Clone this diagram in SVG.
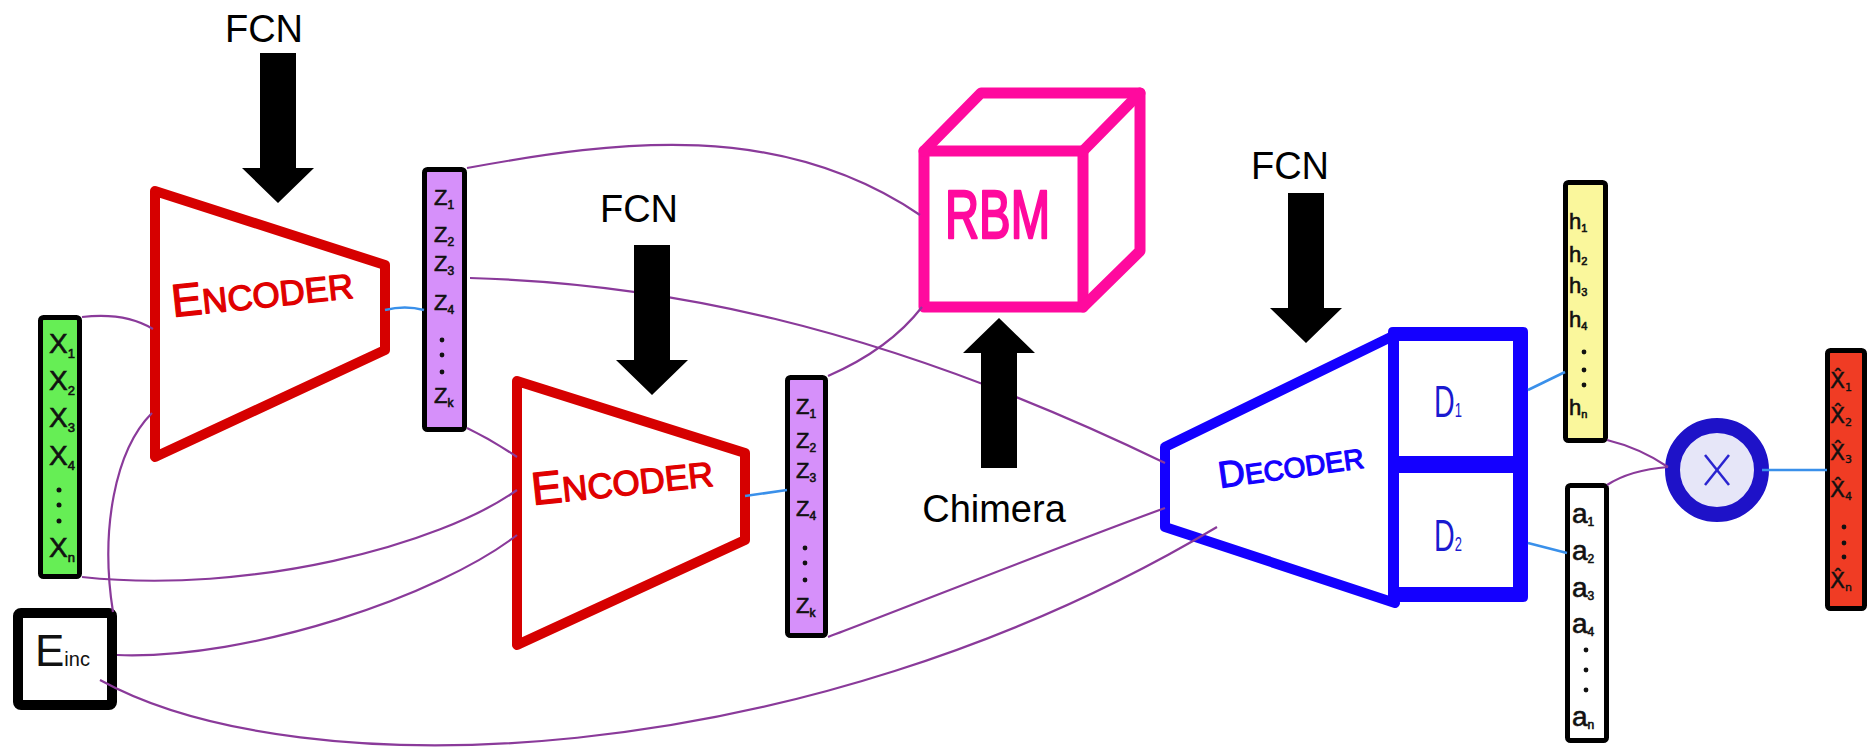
<svg xmlns="http://www.w3.org/2000/svg" width="1871" height="751" viewBox="0 0 1871 751">
  <defs>
    <style>
      .vec { stroke: #000; stroke-width: 5; }
      .lbl { font-family: "Liberation Sans", Arial, sans-serif; fill: #111; stroke: #111; stroke-width: 0.6; }
      .hat { font-family: "DejaVu Sans", "Liberation Sans", sans-serif; fill: #111; stroke: #111; stroke-width: 0.4; }
      .dot { fill: #111; }
      .enc { fill: #fff; stroke: #d60000; stroke-width: 10; stroke-linejoin: round; }
      .enct { font-family: "Liberation Sans", Arial, sans-serif; fill: #e00000; stroke: #e00000; stroke-width: 1.3; stroke-linejoin: round; }
      .dec { fill: none; stroke: #1400ff; stroke-width: 10; stroke-linejoin: round; stroke-linecap: round; }
      .dect { font-family: "Liberation Sans", Arial, sans-serif; fill: #1400ff; stroke: #1400ff; stroke-width: 1.2; stroke-linejoin: round; }
      .dsub { font-family: "Liberation Sans", Arial, sans-serif; fill: #1a1ad0; }
      .cube { fill: none; stroke: #ff0a9e; stroke-width: 11; stroke-linejoin: round; stroke-linecap: round; }
      .annot { font-family: "Liberation Sans", Arial, sans-serif; font-size: 38px; fill: #000; text-anchor: middle; }
      .purple { fill: none; stroke: #8a3a9a; stroke-width: 2.2; }
      .blue { fill: none; stroke: #3a90ea; stroke-width: 2.6; }
    </style>
    <!-- thick block arrow, tip at the origin pointing down -->
    <path id="blockArrow" d="M-18,-150 H18 V-35 H36 L0,0 L-36,-35 H-18 Z" fill="#000"/>
  </defs>

  <rect width="1871" height="751" fill="#fff"/>

  <!-- input vector X -->
  <g id="input-x">
    <rect class="vec" x="40.5" y="317.5" width="39" height="259" rx="3" fill="#66ee55"/>
    <g class="lbl" font-size="28">
      <text x="49" y="353">X<tspan font-size="13" dy="5">1</tspan></text>
      <text x="49" y="390">X<tspan font-size="13" dy="5">2</tspan></text>
      <text x="49" y="427">X<tspan font-size="13" dy="5">3</tspan></text>
      <text x="49" y="465">X<tspan font-size="13" dy="5">4</tspan></text>
      <text x="49" y="557">X<tspan font-size="13" dy="5">n</tspan></text>
    </g>
    <circle class="dot" cx="59" cy="490" r="2.5"/>
    <circle class="dot" cx="59" cy="505" r="2.5"/>
    <circle class="dot" cx="59" cy="521" r="2.5"/>
  </g>

  <!-- E_inc box -->
  <g id="e-inc">
    <rect x="18" y="613" width="94" height="92" rx="3" fill="#fff" stroke="#000" stroke-width="10"/>
    <text x="35" y="666" font-family="Liberation Sans, Arial, sans-serif" font-size="44" fill="#111">E<tspan font-size="20">inc</tspan></text>
  </g>

  <!-- first encoder -->
  <g id="encoder-1">
    <polygon class="enc" points="155,191 385,265 385,350 155,457"/>
    <text class="enct" x="173" y="317" transform="rotate(-6 173 317)"><tspan font-size="46">E</tspan><tspan font-size="35">NCODER</tspan></text>
  </g>

  <!-- latent vector Z (first encoder) -->
  <g id="latent-z1">
    <rect class="vec" x="424.5" y="169.5" width="40" height="260" rx="3" fill="#d690fa"/>
    <g class="lbl" font-size="22">
      <text x="434" y="205">Z<tspan font-size="12" dy="4">1</tspan></text>
      <text x="434" y="242">Z<tspan font-size="12" dy="4">2</tspan></text>
      <text x="434" y="271">Z<tspan font-size="12" dy="4">3</tspan></text>
      <text x="434" y="310">Z<tspan font-size="12" dy="4">4</tspan></text>
      <text x="434" y="403">Z<tspan font-size="12" dy="4">k</tspan></text>
    </g>
    <circle class="dot" cx="442" cy="340" r="2.4"/>
    <circle class="dot" cx="442" cy="355" r="2.4"/>
    <circle class="dot" cx="442" cy="372" r="2.4"/>
  </g>

  <!-- second encoder -->
  <g id="encoder-2">
    <polygon class="enc" points="517,381 745,453 745,540 517,645"/>
    <text class="enct" x="533" y="505" transform="rotate(-6 533 505)"><tspan font-size="46">E</tspan><tspan font-size="35">NCODER</tspan></text>
  </g>

  <!-- latent vector Z (second encoder) -->
  <g id="latent-z2">
    <rect class="vec" x="787.5" y="377.5" width="38" height="258" rx="3" fill="#d690fa"/>
    <g class="lbl" font-size="22">
      <text x="796" y="414">Z<tspan font-size="12" dy="4">1</tspan></text>
      <text x="796" y="448">Z<tspan font-size="12" dy="4">2</tspan></text>
      <text x="796" y="478">Z<tspan font-size="12" dy="4">3</tspan></text>
      <text x="796" y="516">Z<tspan font-size="12" dy="4">4</tspan></text>
      <text x="796" y="613">Z<tspan font-size="12" dy="4">k</tspan></text>
    </g>
    <circle class="dot" cx="805" cy="548" r="2.4"/>
    <circle class="dot" cx="805" cy="563" r="2.4"/>
    <circle class="dot" cx="805" cy="580" r="2.4"/>
  </g>

  <!-- RBM cube -->
  <g id="rbm">
    <rect class="cube" x="924" y="151" width="159" height="156" fill="#fff"/>
    <polyline class="cube" points="924,151 981,93 1140,93 1140,251 1083,307"/>
    <line class="cube" x1="1083" y1="151" x2="1140" y2="93"/>
    <text x="945" y="238" font-family="Liberation Sans, Arial, sans-serif" font-size="68" fill="#ff0a9e" stroke="#ff0a9e" stroke-width="2.5" stroke-linejoin="round" textLength="105" lengthAdjust="spacingAndGlyphs">RBM</text>
  </g>

  <!-- decoder with its two heads -->
  <g id="decoder">
    <path class="dec" d="M1395,335 L1165,447 L1165,527 L1395,603"/>
    <path d="M1393,327 H1523 Q1528,327 1528,332 V597 Q1528,602 1523,602 H1393 Q1388,602 1388,597 V332 Q1388,327 1393,327 Z M1399,341 V456 H1513 V341 Z M1399,473 V587 H1513 V473 Z" fill="#1400ff" fill-rule="evenodd"/>
    <text class="dect" x="1220" y="488" transform="rotate(-8 1220 488)"><tspan font-size="37">D</tspan><tspan font-size="28">ECODER</tspan></text>
    <text class="dsub" font-size="44" transform="translate(1434 417) scale(0.65 1)">D<tspan font-size="20">1</tspan></text>
    <text class="dsub" font-size="44" transform="translate(1434 551) scale(0.65 1)">D<tspan font-size="20">2</tspan></text>
  </g>

  <!-- h vector -->
  <g id="vector-h">
    <rect class="vec" x="1565.5" y="182.5" width="40" height="258" rx="3" fill="#faf79c"/>
    <g class="lbl" font-size="22">
      <text x="1569" y="229">h<tspan font-size="11" dy="3">1</tspan></text>
      <text x="1569" y="262">h<tspan font-size="11" dy="3">2</tspan></text>
      <text x="1569" y="293">h<tspan font-size="11" dy="3">3</tspan></text>
      <text x="1569" y="327">h<tspan font-size="11" dy="3">4</tspan></text>
      <text x="1569" y="415">h<tspan font-size="11" dy="3">n</tspan></text>
    </g>
    <circle class="dot" cx="1584" cy="352" r="2.4"/>
    <circle class="dot" cx="1584" cy="370" r="2.4"/>
    <circle class="dot" cx="1584" cy="385" r="2.4"/>
  </g>

  <!-- a vector -->
  <g id="vector-a">
    <rect class="vec" x="1567.5" y="485.5" width="39" height="255" rx="3" fill="#fff"/>
    <g class="lbl" font-size="28">
      <text x="1572" y="523">a<tspan font-size="12" dy="3">1</tspan></text>
      <text x="1572" y="560">a<tspan font-size="12" dy="3">2</tspan></text>
      <text x="1572" y="597">a<tspan font-size="12" dy="3">3</tspan></text>
      <text x="1572" y="633">a<tspan font-size="12" dy="3">4</tspan></text>
      <text x="1572" y="726">a<tspan font-size="12" dy="3">n</tspan></text>
    </g>
    <circle class="dot" cx="1586" cy="650" r="2.4"/>
    <circle class="dot" cx="1586" cy="670" r="2.4"/>
    <circle class="dot" cx="1586" cy="690" r="2.4"/>
  </g>

  <!-- element-wise product -->
  <g id="product">
    <circle cx="1717" cy="470" r="44.5" fill="#e6e6f8" stroke="#1e12c8" stroke-width="15"/>
    <line x1="1705" y1="455" x2="1729" y2="485" stroke="#2a24d0" stroke-width="2.5"/>
    <line x1="1729" y1="455" x2="1705" y2="485" stroke="#2a24d0" stroke-width="2.5"/>
  </g>

  <!-- reconstructed vector -->
  <g id="output-xhat">
    <rect class="vec" x="1827.5" y="350.5" width="37" height="258" rx="3" fill="#f03c24"/>
    <g class="hat" font-size="22">
      <text x="1830" y="388">X&#x302;<tspan font-size="11" dy="3">1</tspan></text>
      <text x="1830" y="423">X&#x302;<tspan font-size="11" dy="3">2</tspan></text>
      <text x="1830" y="460">X&#x302;<tspan font-size="11" dy="3">3</tspan></text>
      <text x="1830" y="497">X&#x302;<tspan font-size="11" dy="3">4</tspan></text>
      <text x="1830" y="588">X&#x302;<tspan font-size="11" dy="3">n</tspan></text>
    </g>
    <circle class="dot" cx="1844" cy="527" r="2.4"/>
    <circle class="dot" cx="1844" cy="543" r="2.4"/>
    <circle class="dot" cx="1844" cy="557" r="2.4"/>
  </g>

  <!-- connectors -->
  <g id="connectors">
    <path class="purple" d="M82,317 Q125,312 153,329"/>
    <path class="purple" d="M152,413 C115,450 100,530 113,612"/>
    <path class="purple" d="M82,577 C250,595 440,545 517,490"/>
    <path class="purple" d="M117,655 C250,660 440,595 517,535"/>
    <path class="purple" d="M467,428 Q492,440 517,457"/>
    <path class="purple" d="M467,168 C620,140 780,120 920,215"/>
    <path class="purple" d="M470,278 C650,283 870,320 1165,463"/>
    <path class="purple" d="M828,376 C860,362 895,342 922,307"/>
    <path class="purple" d="M828,637 C900,610 1050,550 1165,508"/>
    <path class="purple" d="M100,680 C300,790 800,775 1217,527"/>
    <path class="purple" d="M1607,440 Q1640,448 1668,467"/>
    <path class="purple" d="M1607,485 Q1630,470 1668,467"/>
    <path class="blue" d="M385,310 Q405,305 424,310"/>
    <path class="blue" d="M745,496 L787,490"/>
    <path class="blue" d="M1528,390 L1565,372"/>
    <path class="blue" d="M1528,543 L1567,553"/>
    <path class="blue" d="M1762,470 L1827,470"/>
  </g>

  <!-- annotations -->
  <g id="annotations">
    <text class="annot" x="264" y="42">FCN</text>
    <use href="#blockArrow" transform="translate(278 203)"/>
    <text class="annot" x="639" y="222">FCN</text>
    <use href="#blockArrow" transform="translate(652 395)"/>
    <text class="annot" x="1290" y="179">FCN</text>
    <use href="#blockArrow" transform="translate(1306 343)"/>
    <use href="#blockArrow" transform="translate(999 318) rotate(180)"/>
    <text class="annot" x="994" y="522" font-size="41">Chimera</text>
  </g>
</svg>
